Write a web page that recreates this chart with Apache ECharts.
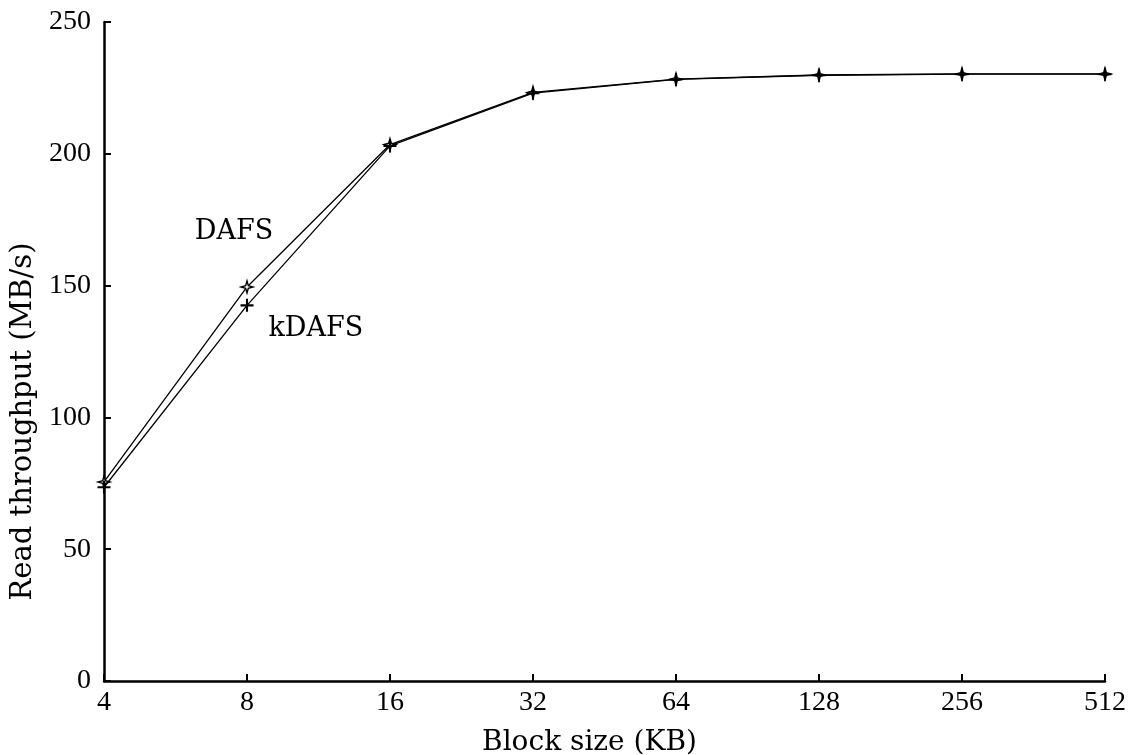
<!DOCTYPE html>
<html><head><meta charset="utf-8">
<script src="https://cdn.jsdelivr.net/npm/echarts@6/dist/echarts.min.js"></script>
<style>html,body{margin:0;padding:0;background:#fff;overflow:hidden}#c{width:1139px;height:755px}</style>
</head><body><div id="c"></div>
<script>
const categories = ['4','8','16','32','64','128','256','512'];
const dafs  = [75.5, 149.5, 203.5, 223.3, 228.3, 229.9, 230.3, 230.3];
const kdafs = [73.5, 142.5, 203.0, 223.0, 228.2, 229.8, 230.2, 230.2];
const yTicks = [0, 50, 100, 150, 200, 250];

const NUMFONT = 'Liberation Serif';
const TXTFONT = 'DejaVu Serif';
const star = 'path://M0,-1 L0.22,-0.22 L1,0 L0.22,0.22 L0,1 L-0.22,0.22 L-1,0 L-0.22,-0.22 Z';
const plus = 'path://M-0.16,-1 L0.16,-1 L0.16,-0.16 L1,-0.16 L1,0.16 L0.16,0.16 L0.16,1 L-0.16,1 L-0.16,0.16 L-1,0.16 L-1,-0.16 L-0.16,-0.16 Z';

const chart = echarts.init(document.getElementById('c'), null, {renderer:'canvas'});
const dafsData = dafs.map((v,i)=> i===1 ? {value:v, label:{show:true, formatter:'DAFS', position:'top', offset:[-13,-30]}} : v);
const kdafsData = kdafs.map((v,i)=> i===1 ? {value:v, label:{show:true, formatter:'kDAFS', position:'right', offset:[10,24]}} : v);
chart.setOption({
  animation:false,
  backgroundColor:'#fff',
  grid:{left:104, right:34, top:22, bottom:74, containLabel:false, outerBoundsMode:'none'},
  xAxis:{
    type:'category', data:categories, boundaryGap:false,
    name:'Block size (KB)', nameLocation:'middle', nameGap:48,
    nameTextStyle:{fontFamily:TXTFONT, fontSize:28, color:'#000', padding:[0,30,0,0]},
    axisLine:{lineStyle:{color:'#000', width:2.5}},
    axisTick:{show:true, inside:true, length:7, lineStyle:{color:'#000', width:2}, alignWithLabel:true},
    axisLabel:{fontFamily:NUMFONT, fontSize:28, color:'#000', margin:8},
    splitLine:{show:false}
  },
  yAxis:{
    type:'value', min:yTicks[0], max:yTicks[yTicks.length-1], interval:50,
    name:'Read throughput (MB/s)', nameLocation:'middle', nameGap:66,
    nameTextStyle:{fontFamily:TXTFONT, fontSize:29, color:'#000', padding:[0,140,0,0]},
    axisLine:{show:true, lineStyle:{color:'#000', width:2.5}},
    axisTick:{show:true, inside:true, length:7, lineStyle:{color:'#000', width:2}},
    axisLabel:{fontFamily:NUMFONT, fontSize:28, color:'#000', margin:13},
    splitLine:{show:false}
  },
  series:[
    {name:'DAFS', type:'line', data:dafsData, symbol:star, symbolSize:12,
     itemStyle:{color:'#fff', borderColor:'#000', borderWidth:1.4},
     lineStyle:{color:'#000', width:1.3},
     label:{fontFamily:TXTFONT, fontSize:27, color:'#000'}, z:3},
    {name:'kDAFS', type:'line', data:kdafsData, symbol:plus, symbolSize:13,
     itemStyle:{color:'#000', borderWidth:0},
     lineStyle:{color:'#000', width:1.3},
     label:{fontFamily:TXTFONT, fontSize:27, color:'#000'}, z:4}
  ]
});
</script></body></html>
